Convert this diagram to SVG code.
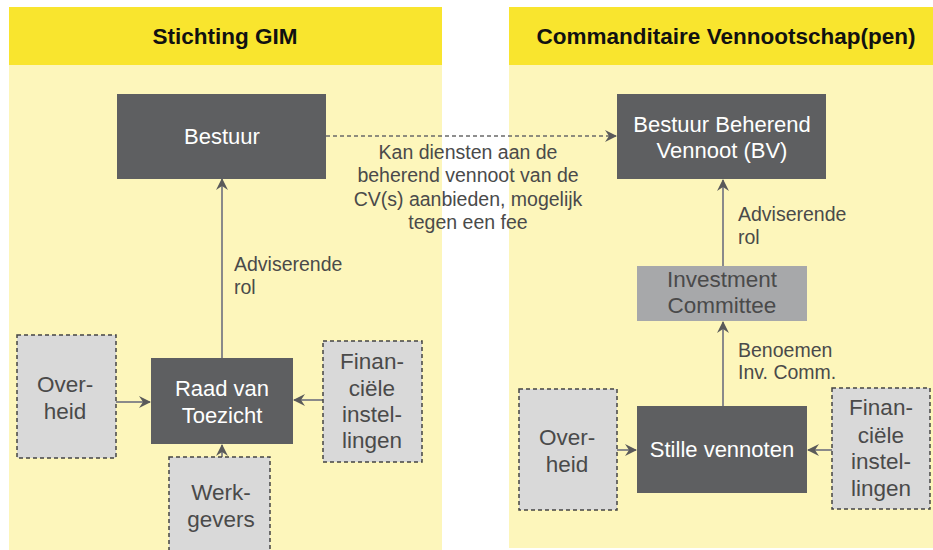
<svg xmlns="http://www.w3.org/2000/svg" width="933" height="550" viewBox="0 0 933 550">
<style>
text{font-family:"Liberation Sans",Arial,sans-serif}
.hdr{fill:#F9E52E}
.body{fill:#FDF6BB}
.title{font-size:22.5px;font-weight:bold;fill:#111;text-anchor:middle}
.dark{fill:#5E5F61}
.mid{fill:#A7A8AA}
.light{fill:#D9D9D9;stroke:#444;stroke-width:1.5;stroke-dasharray:4 3}
.wt{font-size:22px;fill:#fff;text-anchor:middle}
.gt{font-size:22.5px;fill:#4a4a4a;text-anchor:middle}
.lbl{font-size:19.5px;fill:#4a4a4a}
.conn{stroke:#8a8a8a;stroke-width:2;fill:none;marker-end:url(#ah)}
</style>
<defs>
<marker id="ah" viewBox="0 0 12 12" refX="11" refY="6" markerWidth="12" markerHeight="12" markerUnits="userSpaceOnUse" orient="auto">
<path d="M0,0 L12,6 L0,12 L4,6 z" fill="#5a5a5a"/>
</marker>
</defs>
<rect width="933" height="550" fill="#fff"/>
<g id="panel-left">
<rect x="9" y="65" width="433" height="485" class="body"/>
<rect x="9" y="7" width="433" height="58" class="hdr"/>
<text x="225" y="44" class="title">Stichting GIM</text>
</g>
<g id="panel-right">
<rect x="509" y="65" width="424" height="483" class="body"/>
<rect x="509" y="7" width="424" height="58" class="hdr"/>
<text x="726" y="44" class="title">Commanditaire Vennootschap(pen)</text>
</g>
<g id="connectors">
<line x1="326" y1="136" x2="616" y2="136" stroke="#6a6a6a" stroke-width="1.5" stroke-dasharray="4 3" marker-end="url(#ah)"/>
<line x1="222" y1="358" x2="222" y2="179" class="conn"/>
<line x1="116" y1="402" x2="150" y2="402" class="conn"/>
<line x1="323" y1="400" x2="294" y2="400" class="conn"/>
<line x1="222" y1="457" x2="222" y2="445" class="conn"/>
<line x1="723" y1="266" x2="723" y2="180" class="conn"/>
<line x1="723" y1="406" x2="723" y2="322" class="conn"/>
<line x1="617" y1="450" x2="636" y2="450" class="conn" stroke="#bbb"/>
<line x1="832" y1="450" x2="808" y2="450" class="conn" stroke="#bbb"/>
<text class="lbl" x="468" y="159" text-anchor="middle">Kan diensten aan de</text>
<text class="lbl" x="468" y="182" text-anchor="middle">beherend vennoot van de</text>
<text class="lbl" x="468" y="206" text-anchor="middle">CV(s) aanbieden, mogelijk</text>
<text class="lbl" x="468" y="229" text-anchor="middle">tegen een fee</text>
<text class="lbl" x="234" y="271">Adviserende</text>
<text class="lbl" x="234" y="294">rol</text>
<text class="lbl" x="738" y="221">Adviserende</text>
<text class="lbl" x="738" y="244">rol</text>
<text class="lbl" x="738" y="357">Benoemen</text>
<text class="lbl" x="738" y="379">Inv. Comm.</text>
</g>
<g id="bestuur">
<rect x="117" y="94" width="209" height="85" class="dark"/>
<text x="222" y="144" class="wt">Bestuur</text>
</g>
<g id="bestuur-beherend">
<rect x="617" y="94" width="209" height="85" class="dark"/>
<text x="722" y="132" class="wt">Bestuur Beherend</text>
<text x="722" y="158" class="wt">Vennoot (BV)</text>
</g>
<g id="raad-van-toezicht">
<rect x="151" y="358" width="142" height="86" class="dark"/>
<text x="222" y="396" class="wt">Raad van</text>
<text x="222" y="423" class="wt">Toezicht</text>
</g>
<g id="overheid-left">
<rect x="17" y="335" width="99" height="123" class="light"/>
<text x="65" y="392" class="gt">Over-</text>
<text x="65" y="419" class="gt">heid</text>
</g>
<g id="financiele-left">
<rect x="323" y="341" width="99" height="121" class="light"/>
<text x="372" y="369" class="gt">Finan-</text>
<text x="372" y="396" class="gt">ciële</text>
<text x="372" y="422" class="gt">instel-</text>
<text x="372" y="448" class="gt">lingen</text>
</g>
<g id="werkgevers">
<rect x="169" y="457" width="101" height="100" class="light"/>
<text x="221" y="500" class="gt">Werk-</text>
<text x="221" y="527" class="gt">gevers</text>
</g>
<g id="investment-committee">
<rect x="637" y="266" width="170" height="55" class="mid"/>
<text x="722" y="287" class="gt">Investment</text>
<text x="722" y="313" class="gt">Committee</text>
</g>
<g id="stille-vennoten">
<rect x="637" y="406" width="170" height="87" class="dark"/>
<text x="722" y="457" class="wt">Stille vennoten</text>
</g>
<g id="overheid-right">
<rect x="519" y="389" width="98" height="121" class="light"/>
<text x="567" y="445" class="gt">Over-</text>
<text x="567" y="472" class="gt">heid</text>
</g>
<g id="financiele-right">
<rect x="832" y="388" width="98" height="121" class="light"/>
<text x="881" y="415" class="gt">Finan-</text>
<text x="881" y="443" class="gt">ciële</text>
<text x="881" y="469" class="gt">instel-</text>
<text x="881" y="496" class="gt">lingen</text>
</g>
</svg>
